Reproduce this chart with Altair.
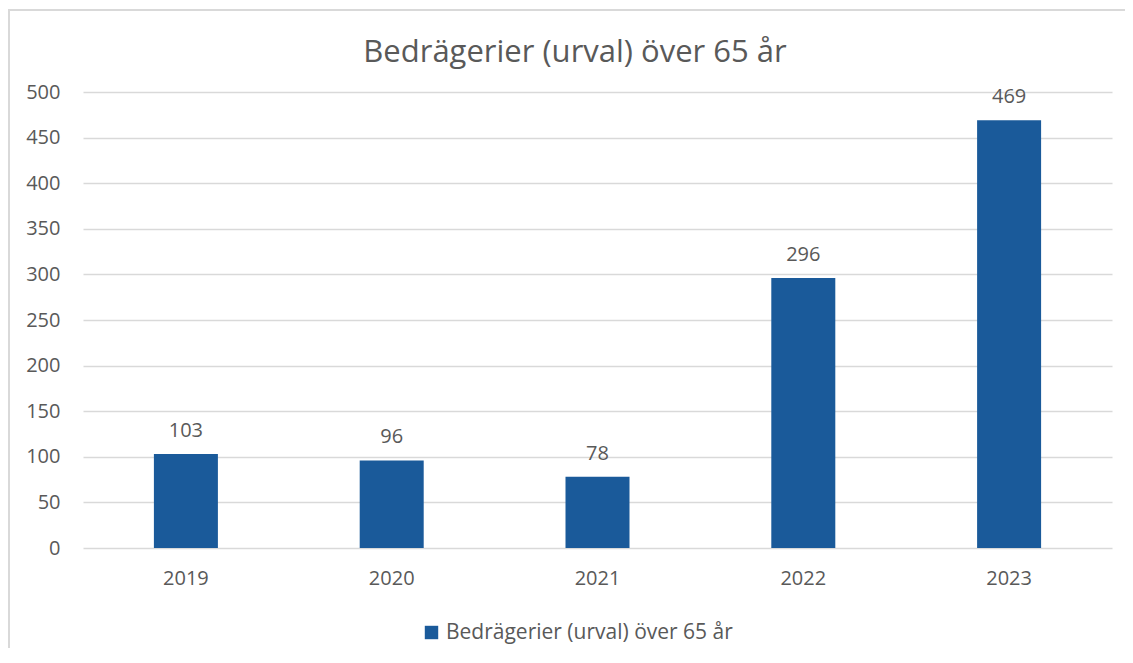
import altair as alt
import pandas as pd

years = ["2019", "2020", "2021", "2022", "2023"]
values = [103, 96, 78, 296, 469]
series = "Bedrägerier (urval) över 65 år"
title = "Bedrägerier (urval) över 65 år"

df = pd.DataFrame({"year": years, "value": values, "series": [series] * len(years)})
frame = pd.DataFrame({"k": [0]})
title_df = pd.DataFrame({"t": [title]})

FONT = "Open Sans"
GREY = "#595959"
BLUE = "#1A5A9A"

x = alt.X("year:N", title=None,
          scale=alt.Scale(paddingInner=0.69, paddingOuter=0.345),
          axis=alt.Axis(labelAngle=0, ticks=False, domain=False, grid=False,
                        labelFontSize=20, labelColor=GREY, labelFont=FONT,
                        labelPadding=20))
y = alt.Y("value:Q", title=None,
          scale=alt.Scale(domain=[0, 500], nice=False),
          axis=alt.Axis(values=list(range(0, 501, 50)), ticks=False, domain=False,
                        gridColor="#D9D9D9", gridWidth=1.5,
                        labelFontSize=20, labelColor=GREY, labelFont=FONT,
                        labelPadding=23))

bars = alt.Chart(df).mark_bar(size=64).encode(
    x=x, y=y,
    color=alt.Color("series:N", title=None,
                    scale=alt.Scale(range=[BLUE]),
                    legend=alt.Legend(orient="none", legendX=338, legendY=530,
                                      symbolType="square", symbolSize=180,
                                      symbolStrokeWidth=0, labelLimit=600,
                                      labelFontSize=21, labelColor=GREY,
                                      labelFont=FONT, labelOffset=4)),
)

labels = alt.Chart(df).mark_text(fontSize=20, font=FONT, color=GREY,
                                 baseline="alphabetic", dy=-17).encode(
    x="year:N", y="value:Q", text="value:Q")

border = alt.Chart(frame).mark_rect(fill=None, stroke="#D9D9D9", strokeWidth=2,
                                    clip=False).encode(
    x=alt.value(-74), x2=alt.value(1400),
    y=alt.value(-82), y2=alt.value(900))

title_mark = alt.Chart(title_df).mark_text(
    fontSize=31, font=FONT, color=GREY, align="center", baseline="alphabetic"
).encode(x=alt.value(492), y=alt.value(-30), text="t:N")

chart = alt.layer(border, title_mark, bars, labels).properties(
    width=1029, height=456,
    autosize=alt.AutoSizeParams(type="none"),
    padding={"left": 75, "top": 84, "right": 13, "bottom": 100},
).configure_view(stroke=None)

chart.save("out.html", embed_options={"renderer": "svg", "actions": False})
